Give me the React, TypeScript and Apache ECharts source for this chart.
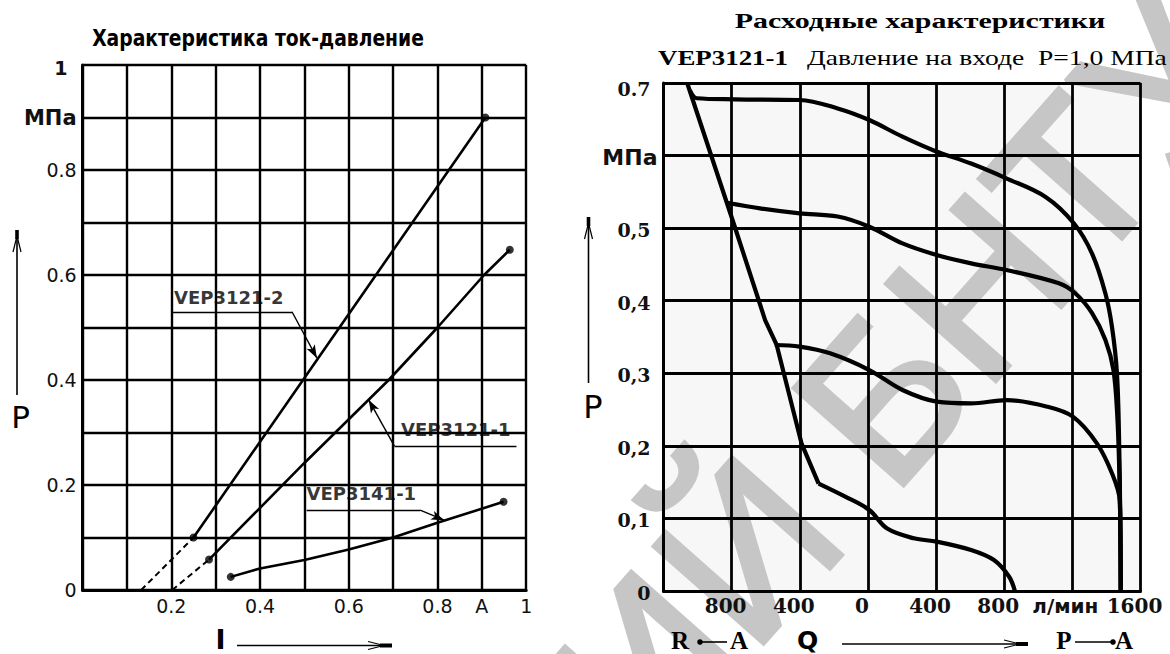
import React, { useEffect, useRef } from "react";
import * as echarts from "echarts";

// ---------- texts ----------
const leftTitle = "Характеристика ток-давление";
const rightTitle = "Расходные характеристики";
const rightSubBold = "VEP3121-1";
const rightSubRest = "Давление на входе  P=1,0 МПа";
const watermarkText = "ИЙ БНТУ";

// ---------- tick labels ----------
const leftXTickLabels = ["", "", "0.2", "", "0.4", "", "0.6", "", "0.8", "A", "1"];
const leftYTickLabels = ["0", "", "0.2", "", "0.4", "", "0.6", "", "0.8", "МПа", "1"];
const rightXTickLabels = ["", "800", "400", "0", "400", "800", "л/мин", "1600"];
const rightYTickLabels = ["0", "0,1", "0,2", "0,3", "0,4", "0,5", "МПа", "0.7"];

// ---------- left chart: current I (A) vs pressure P (MPa) ----------
const vep3121_2 = [[0.25, 0.1], [0.5, 0.404], [0.908, 0.9]];
const vep3121_2Dashed = [[0.132, 0], [0.25, 0.1]];
const vep3121_1 = [[0.285, 0.058], [0.5, 0.242], [0.69, 0.4], [0.8, 0.5], [0.905, 0.6], [0.963, 0.648]];
const vep3121_1Dashed = [[0.202, 0], [0.285, 0.058]];
const vep3141_1 = [[0.334, 0.025], [0.4, 0.041], [0.5, 0.057], [0.6, 0.077], [0.7, 0.1], [0.8, 0.128], [0.949, 0.168]];

const leftLabelNames = ["VEP3121-2", "VEP3121-1", "VEP3141-1"];
const leftLabelAt = [[0.206, 0.558], [0.718, 0.305], [0.505, 0.184]];
const leftUnderlines = [
  [[0.202, 0.53], [0.472, 0.53]],
  [[0.703, 0.274], [0.978, 0.274]],
  [[0.505, 0.152], [0.761, 0.152]],
];
const leftLeaders = [
  [[0.472, 0.53], [0.528, 0.442]],
  [[0.703, 0.274], [0.645, 0.362]],
  [[0.761, 0.152], [0.815, 0.133]],
];

// ---------- right chart: flow Q (l/min) vs pressure P (MPa) ----------
const reliefLine = [[-1061, 0.7], [-786, 0.505], [-603, 0.373], [-535.6, 0.339], [-390, 0.2035], [-289.5, 0.148]];
const flowLow = [[-289.5, 0.148], [-133, 0.13], [8, 0.1116], [113, 0.086], [270, 0.0726], [404, 0.068], [605.5, 0.0565], [739.7, 0.0427], [829, 0.0197], [862.7, 0]];
const flow034 = [[-546.8, 0.339], [-401.3, 0.3367], [-222.3, 0.3275], [8, 0.3045], [202.8, 0.277], [404, 0.261], [605.5, 0.2586], [813.6, 0.263], [1053, 0.254], [1205, 0.24], [1344, 0.2035], [1433, 0.162], [1478, 0.125], [1483, 0.06], [1484, 0]];
const flow053 = [[-828, 0.535], [-625, 0.527], [-401, 0.5204], [-177.6, 0.516], [8, 0.502], [202.8, 0.479], [404, 0.463], [605.5, 0.4515], [813.6, 0.4423], [1121, 0.424], [1218.5, 0.41], [1315.6, 0.383], [1394, 0.346], [1441, 0.3045], [1464, 0.24], [1476, 0.16], [1482, 0.08], [1484, 0]];
const flow068 = [[-1045, 0.69], [-1005, 0.679], [-782, 0.6775], [-401.3, 0.6766], [-177.6, 0.665], [8, 0.649], [202.8, 0.626], [390, 0.6067], [605.5, 0.589], [809, 0.569], [1043, 0.543], [1208.6, 0.5067], [1315.6, 0.465], [1394, 0.41], [1432.6, 0.364], [1461.8, 0.3], [1475, 0.2], [1481, 0.1], [1484, 0]];

const SANS = '"DejaVu Sans", "Liberation Sans", sans-serif';
const ARIAL = '"Liberation Sans", "DejaVu Sans", sans-serif';
const SERIF = '"DejaVu Serif", "Liberation Serif", serif';
const TIMES = '"Liberation Serif", "DejaVu Serif", serif';

const LEFT_GRID = { left: 82.6, top: 65, width: 443.6, height: 525 };
const RIGHT_GRID = { left: 663.5, top: 83, width: 477, height: 508 };

let measureCtx: CanvasRenderingContext2D | null = null;
function measure(text: string, font: string): number {
  if (!measureCtx) measureCtx = document.createElement("canvas").getContext("2d");
  if (!measureCtx) return text.length * 10;
  measureCtx.font = font;
  return measureCtx.measureText(text).width;
}

function fitText(text: string, x: number, y: number, font: string, width: number, align = "center") {
  const w = measure(text, font);
  return {
    type: "text",
    x,
    y,
    scaleX: w > 0 ? width / w : 1,
    z: 5,
    style: { text, font, fill: "#000", align, verticalAlign: "middle" },
  };
}

function vArrow(x: number, y1: number, y2: number) {
  return [
    { type: "line", z: 5, shape: { x1: x, y1: y1 + 2, x2: x, y2 }, style: { stroke: "#000", lineWidth: 1.6 } },
    { type: "rect", z: 5, shape: { x: x - 1.8, y: y1, width: 3.6, height: 9 }, style: { fill: "#000" } },
    { type: "polyline", z: 5, shape: { points: [[x - 4, y1 + 22], [x, y1 + 6], [x + 4, y1 + 22]] }, style: { stroke: "#000", lineWidth: 1.2, fill: "none" } },
  ];
}

function hArrow(x1: number, x2: number, y: number) {
  return [
    { type: "line", z: 5, shape: { x1, y1: y, x2: x2 - 2, y2: y }, style: { stroke: "#000", lineWidth: 1.6 } },
    { type: "rect", z: 5, shape: { x: x2 - 12, y: y - 2, width: 12, height: 4 }, style: { fill: "#000" } },
    { type: "polyline", z: 5, shape: { points: [[x2 - 24, y - 4], [x2 - 8, y], [x2 - 24, y + 4]] }, style: { stroke: "#000", lineWidth: 1.2, fill: "none" } },
  ];
}

function portLabel(a: string, b: string, xa: number, xl1: number, xl2: number, xDot: number, xb: number, y: number) {
  const f = `bold 25px ${TIMES}`;
  return [
    { type: "text", x: xa, y, z: 5, style: { text: a, font: f, fill: "#000", align: "center", verticalAlign: "middle" } },
    { type: "line", z: 5, shape: { x1: xl1, y1: y + 2, x2: xl2, y2: y + 2 }, style: { stroke: "#000", lineWidth: 1.6 } },
    { type: "circle", z: 5, shape: { cx: xDot, cy: y + 2, r: 2.8 }, style: { fill: "#000" } },
    { type: "text", x: xb, y, z: 5, style: { text: b, font: f, fill: "#000", align: "center", verticalAlign: "middle" } },
  ];
}

function watermarkLetters(text: string, fontPx: number, angleDeg: number, anchorIndex: number, ax: number, ay: number) {
  const font = `${fontPx}px ${ARIAL}`;
  const a = (angleDeg * Math.PI) / 180;
  const dx = Math.cos(a);
  const dy = -Math.sin(a);
  const chars = Array.from(text);
  const anchorPrefix = measure(chars.slice(0, anchorIndex).join(""), font) + measure(chars[anchorIndex], font) / 2;
  const sx = ax - anchorPrefix * dx;
  const sy = ay - anchorPrefix * dy;
  const out: any[] = [];
  chars.forEach((ch, i) => {
    if (ch === " ") return;
    const p = measure(chars.slice(0, i).join(""), font);
    out.push({
      type: "text", x: sx + p * dx, y: sy + p * dy, rotation: a, z: -10, silent: true,
      style: { text: ch, font, fill: "#c6c6c6", stroke: "#c6c6c6", lineWidth: 5, align: "left", verticalAlign: "middle" },
    });
  });
  return out;
}

export default function App() {
  const ref = useRef<HTMLDivElement | null>(null);

  useEffect(() => {
    if (!ref.current) return;
    const chart = echarts.init(ref.current, null, { renderer: "svg", width: 1170, height: 654 });

    const blackLine = (w: number) => ({ color: "#000", width: w });

    const leftLine = (data: number[][], dashed = false) => ({
      type: "line",
      xAxisIndex: 0,
      yAxisIndex: 0,
      data,
      symbol: "none",
      smooth: false,
      z: 3,
      lineStyle: { color: "#000", width: dashed ? 2 : 2.6, type: dashed ? [6, 4] : "solid" },
    });

    const rightLine = (data: number[][], smooth: number) => ({
      type: "line",
      xAxisIndex: 1,
      yAxisIndex: 1,
      data,
      symbol: "none",
      smooth,
      z: 3,
      lineStyle: { color: "#000", width: 4.2 },
    });

    const endpoints = [vep3121_2, vep3121_1, vep3141_1].flatMap((s) => [s[0], s[s.length - 1]]);

    const markData: any[] = [];
    leftUnderlines.forEach((seg) => {
      markData.push([{ coord: seg[0], symbol: "none" }, { coord: seg[1], symbol: "none" }]);
    });
    leftLeaders.forEach((seg) => {
      markData.push([{ coord: seg[0], symbol: "none" }, { coord: seg[1], symbol: "arrow", symbolSize: [7, 13] }]);
    });

    const option: any = {
      animation: false,
      backgroundColor: "#fff",
      grid: [
        { ...LEFT_GRID, show: true, borderColor: "#9a9a9a", borderWidth: 1, backgroundColor: "transparent" },
        { ...RIGHT_GRID, show: true, borderColor: "#c4c4c4", borderWidth: 1.5, backgroundColor: "transparent" },
      ],
      xAxis: [
        {
          type: "value", gridIndex: 0, min: 0, max: 1, interval: 0.1,
          axisLine: { show: true, onZero: false, lineStyle: blackLine(3) },
          axisTick: { show: false },
          splitLine: { show: true, lineStyle: blackLine(2.4) },
          axisLabel: {
            margin: 6,
            fontFamily: SANS, fontSize: 19, color: "#111",
            formatter: (v: number) => leftXTickLabels[Math.round(v * 10)] || "",
          },
        },
        {
          type: "value", gridIndex: 1, min: -1200, max: 1600, interval: 400,
          axisLine: { show: true, onZero: false, lineStyle: blackLine(3) },
          axisTick: { show: false },
          splitLine: { show: true, lineStyle: blackLine(2.8) },
          axisLabel: {
            margin: 5,
            formatter: (v: number) => {
              const t = rightXTickLabels[Math.round((v + 1200) / 400)] || "";
              if (!t) return "";
              return t === "л/мин" ? "{u|" + t + "}" : "{n|" + t + "}";
            },
            rich: {
              n: { fontFamily: SERIF, fontWeight: "bold", fontSize: 20, color: "#111", padding: [0, 12, 0, 0] },
              u: { fontFamily: SANS, fontWeight: "bold", fontSize: 20, color: "#111", padding: [0, 14, 0, 0] },
            },
          },
        },
      ],
      yAxis: [
        {
          type: "value", gridIndex: 0, min: 0, max: 1, interval: 0.1,
          axisLine: { show: true, onZero: false, lineStyle: blackLine(3) },
          axisTick: { show: false },
          splitLine: { show: true, lineStyle: blackLine(2.4) },
          axisLabel: {
            margin: 6,
            formatter: (v: number) => {
              const t = leftYTickLabels[Math.round(v * 10)] || "";
              if (!t) return "";
              if (t === "МПа") return "{u|" + t + "}";
              if (t === "1") return "{one|" + t + "}";
              return "{n|" + t + "}";
            },
            rich: {
              n: { fontFamily: SANS, fontSize: 19, color: "#111" },
              u: { fontFamily: SANS, fontWeight: "bold", fontSize: 21, color: "#111" },
              one: { fontFamily: SANS, fontWeight: "bold", fontSize: 19, color: "#111", padding: [6, 9, 0, 0] },
            },
          },
        },
        {
          type: "value", gridIndex: 1, min: 0, max: 0.7, interval: 0.1,
          axisLine: { show: true, onZero: false, lineStyle: blackLine(3) },
          axisTick: { show: false },
          splitLine: { show: true, lineStyle: blackLine(2.8) },
          axisLabel: {
            margin: 6,
            formatter: (v: number) => {
              const k = Math.round(v * 10);
              const t = rightYTickLabels[k] || "";
              if (!t) return "";
              if (t === "МПа") return "{u|" + t + "}";
              if (k === 7) return "{top|" + t + "}";
              return "{n|" + t + "}";
            },
            rich: {
              n: { fontFamily: SERIF, fontWeight: "bold", fontSize: 19, color: "#111", padding: [4, 7, 0, 0] },
              top: { fontFamily: SERIF, fontWeight: "bold", fontSize: 19, color: "#111", padding: [12, 7, 0, 0] },
              u: { fontFamily: SANS, fontWeight: "bold", fontSize: 22, color: "#111", padding: [4, 0, 0, 0] },
            },
          },
        },
      ],
      series: [
        leftLine(vep3121_2),
        leftLine(vep3121_2Dashed, true),
        leftLine(vep3121_1),
        leftLine(vep3121_1Dashed, true),
        leftLine(vep3141_1),
        {
          type: "scatter", xAxisIndex: 0, yAxisIndex: 0, data: endpoints,
          symbol: "circle", symbolSize: 8, z: 4, itemStyle: { color: "#000" },
        },
        {
          type: "scatter", xAxisIndex: 0, yAxisIndex: 0, z: 4,
          symbolSize: 0,
          data: leftLabelNames.map((n, i) => ({ name: n, value: leftLabelAt[i] })),
          label: {
            show: true, position: "right", distance: 0, formatter: "{b}",
            fontFamily: SANS, fontWeight: "bold", fontSize: 18, color: "#000",
          },
          markLine: {
            silent: true, animation: false,
            symbol: ["none", "none"],
            label: { show: false },
            lineStyle: { color: "#000", width: 1.4, type: "solid" },
            data: markData,
          },
        },
        rightLine(reliefLine, 0),
        rightLine(flowLow, 0.35),
        rightLine(flow034, 0.35),
        rightLine(flow053, 0.35),
        rightLine(flow068, 0.35),
      ],
      graphic: [
        // plot background of the right chart (under the watermark)
        {
          type: "rect", z: -20, silent: true,
          shape: { x: RIGHT_GRID.left, y: RIGHT_GRID.top, width: RIGHT_GRID.width, height: RIGHT_GRID.height },
          style: { fill: "#f7f7f7" },
        },
        // watermark, letter by letter (Б centred near the middle of the right plot)
        ...watermarkLetters(watermarkText, 212, 48.5, 3, 883, 397),
        fitText(leftTitle, 258, 38, `bold 23px "DejaVu Sans Condensed", ${SANS}`, 332),
        fitText(rightTitle, 920, 21, `bold 22px ${TIMES}`, 371),
        fitText(rightSubBold, 658, 58, `bold 20px ${TIMES}`, 130, "left"),
        fitText(rightSubRest, 807, 58, `20px ${TIMES}`, 360, "left"),
        // axis names
        { type: "text", x: 20.5, y: 417, z: 5, style: { text: "P", font: `31px ${SANS}`, fill: "#000", align: "center", verticalAlign: "middle" } },
        { type: "text", x: 593, y: 407, z: 5, style: { text: "P", font: `32px ${SANS}`, fill: "#000", align: "center", verticalAlign: "middle" } },
        { type: "text", x: 220.5, y: 639, z: 5, style: { text: "I", font: `bold 27px ${SANS}`, fill: "#000", align: "center", verticalAlign: "middle" } },
        { type: "text", x: 807.5, y: 640, z: 5, style: { text: "Q", font: `bold 25px ${SANS}`, fill: "#000", align: "center", verticalAlign: "middle" } },
        ...vArrow(17, 230, 395),
        ...vArrow(588.5, 217, 383),
        ...hArrow(237, 392, 645.5),
        ...hArrow(842, 1028, 644),
        ...portLabel("R", "A", 680, 700, 727, 700, 739, 640),
        ...portLabel("P", "A", 1064, 1075, 1113, 1113, 1124, 640),
      ],
    };

    chart.setOption(option);
    return () => chart.dispose();
  }, []);

  return (
    <div
      ref={ref}
      style={{ position: "fixed", left: 0, top: 0, width: 1170, height: 654, background: "#fff" }}
    />
  );
}
